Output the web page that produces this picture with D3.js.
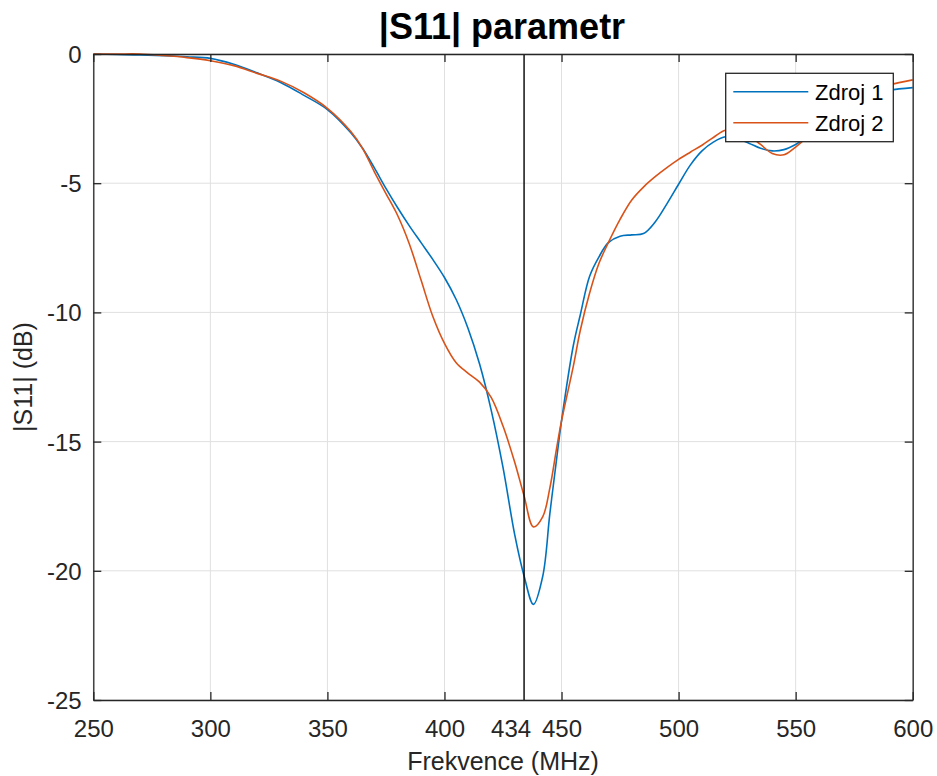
<html>
<head>
<meta charset="utf-8">
<style>
body { margin: 0; background: #fff; }
text { font-family: "Liberation Sans", Arial, sans-serif; fill: #262626; }
</style>
</head>
<body>
<svg id="chart"></svg>
<script src="https://cdn.jsdelivr.net/npm/d3@7"></script>
<script>
var width = 937, height = 776;

// frequencies (MHz) shared by both series
var freq = [250, 260, 270, 280, 290, 300, 310, 320, 330, 340, 350, 360, 365, 370, 375, 380, 385, 390, 395, 400,
  405, 410, 415, 420, 425, 430, 434, 438, 442, 445, 448, 450, 455, 458, 462, 466, 470, 475, 480, 485,
  490, 495, 500, 505, 510, 515, 520, 525, 530, 535, 540, 545, 550, 555, 560, 570, 580, 590, 600];

var zdroj1 = [0, -0.02, -0.04, -0.07, -0.11, -0.17, -0.4, -0.73, -1.1, -1.6, -2.15, -3.05, -3.65, -4.4, -5.2, -5.95, -6.65, -7.3, -7.95, -8.65,
  -9.5, -10.6, -12.0, -13.8, -16.0, -18.6, -20.2, -21.3, -20.2, -17.8, -15.6, -14.2, -11.3, -10.1, -8.6, -7.85, -7.3, -7.05, -7.0, -6.95,
  -6.5, -5.8, -5.04, -4.3, -3.75, -3.4, -3.2, -3.28, -3.45, -3.65, -3.75, -3.7, -3.5, -3.2, -2.8, -2.1, -1.6, -1.4, -1.3];

var zdroj2 = [0, 0, 0, -0.06, -0.14, -0.26, -0.45, -0.75, -1.05, -1.5, -2.1, -3.0, -3.65, -4.55, -5.4, -6.25, -7.35, -8.75, -10.15, -11.2,
  -11.95, -12.35, -12.7, -13.3, -14.4, -15.8, -17.1, -18.3, -17.9, -16.8, -15.2, -14.2, -12.1, -10.7, -9.25, -8.1, -7.3, -6.4, -5.65, -5.15,
  -4.75, -4.4, -4.08, -3.8, -3.53, -3.22, -2.95, -2.97, -3.15, -3.5, -3.85, -3.9, -3.6, -3.2, -2.7, -2.0, -1.5, -1.2, -1.0];

var seriesNames = ["Zdroj 1", "Zdroj 2"];
var seriesColors = ["#0072BD", "#D95319"];
var xTicks = [250, 300, 350, 400, 450, 500, 550, 600];
var yTicks = [0, -5, -10, -15, -20, -25];
var marker = 434;

var pLeft = 93.3, pRight = 912.7, pTop = 54, pBottom = 700;

var x = d3.scaleLinear().domain([250, 600]).range([pLeft, pRight]);
var y = d3.scaleLinear().domain([-25, 0]).range([pBottom, pTop]);

var svg = d3.select("#chart").attr("width", width).attr("height", height);

// grid
svg.append("g").selectAll("line").data(xTicks).enter().append("line")
  .attr("x1", function(d) { return x(d); }).attr("x2", function(d) { return x(d); })
  .attr("y1", pTop).attr("y2", pBottom)
  .attr("stroke", "#e0e0e0").attr("stroke-width", 1);
svg.append("g").selectAll("line").data(yTicks).enter().append("line")
  .attr("y1", function(d) { return y(d); }).attr("y2", function(d) { return y(d); })
  .attr("x1", pLeft).attr("x2", pRight)
  .attr("stroke", "#e0e0e0").attr("stroke-width", 1);

// curves
var line = d3.line()
  .x(function(d) { return x(d[0]); })
  .y(function(d) { return y(d[1]); })
  .curve(d3.curveCatmullRom.alpha(0.5));

[zdroj1, zdroj2].forEach(function(s, i) {
  svg.append("path")
    .datum(freq.map(function(f, j) { return [f, s[j]]; }))
    .attr("fill", "none")
    .attr("stroke", seriesColors[i])
    .attr("stroke-width", 1.6)
    .attr("d", line);
});

// marker line at 434 MHz
svg.append("line")
  .attr("x1", x(marker)).attr("x2", x(marker))
  .attr("y1", pTop).attr("y2", pBottom)
  .attr("stroke", "#000").attr("stroke-width", 1.4);

// axes (ticks inside, box on)
var tl = 8;
var plain = function(d) { return String(d); };   // hyphen minus like MATLAB
var axisBottom = d3.axisBottom(x).tickValues(xTicks).tickSizeInner(-tl).tickSizeOuter(0).tickFormat(plain);
var axisTop = d3.axisTop(x).tickValues(xTicks).tickSizeInner(-tl).tickSizeOuter(0).tickFormat("");
var axisLeft = d3.axisLeft(y).tickValues(yTicks).tickSizeInner(-tl).tickSizeOuter(0).tickFormat(plain);
var axisRight = d3.axisRight(y).tickValues(yTicks).tickSizeInner(-tl).tickSizeOuter(0).tickFormat("");

function styleAxis(g) {
  g.select(".domain").attr("stroke", "#262626").attr("stroke-width", 1.3);
  g.selectAll(".tick line").attr("stroke", "#262626").attr("stroke-width", 1.3);
  g.selectAll(".tick text").attr("fill", "#262626").style("font-size", "24px")
    .style("font-family", "'Liberation Sans', Arial, sans-serif");
}

var gb = svg.append("g").attr("transform", "translate(0," + pBottom + ")").call(axisBottom).call(styleAxis);
gb.selectAll(".tick text").attr("dy", null).attr("y", 36.7);
svg.append("g").attr("transform", "translate(0," + pTop + ")").call(axisTop).call(styleAxis);
var gl = svg.append("g").attr("transform", "translate(" + pLeft + ",0)").call(axisLeft).call(styleAxis);
gl.selectAll(".tick text").attr("x", -11.6).attr("dy", "0.35em");
svg.append("g").attr("transform", "translate(" + pRight + ",0)").call(axisRight).call(styleAxis);

// extra tick label for the marker
svg.append("text")
  .attr("x", x(marker) - 13).attr("y", pBottom + 36.7)
  .attr("text-anchor", "middle")
  .style("font-size", "24px")
  .text(marker);

// title and labels
svg.append("text")
  .attr("x", 502).attr("y", 39.3)
  .attr("text-anchor", "middle")
  .style("font-size", "36px").style("font-weight", "bold")
  .style("fill", "#000")
  .text("|S11| parametr");

svg.append("text")
  .attr("x", 503).attr("y", 770)
  .attr("text-anchor", "middle")
  .style("font-size", "25px")
  .text("Frekvence (MHz)");

svg.append("text")
  .attr("transform", "translate(32," + ((pTop + pBottom) / 2) + ") rotate(-90)")
  .attr("text-anchor", "middle")
  .style("font-size", "25px")
  .text("|S11| (dB)");

// legend
var lg = svg.append("g");
lg.append("rect")
  .attr("x", 725.7).attr("y", 73.3).attr("width", 167.6).attr("height", 68.4)
  .attr("fill", "#fff").attr("stroke", "#262626").attr("stroke-width", 1.3);
seriesNames.forEach(function(name, i) {
  var yy = 91.7 + i * 31;
  lg.append("line")
    .attr("x1", 733.3).attr("x2", 808.3).attr("y1", yy).attr("y2", yy)
    .attr("stroke", seriesColors[i]).attr("stroke-width", 1.6);
  lg.append("text")
    .attr("x", 815).attr("y", yy + 8.5)
    .style("font-size", "22px").style("fill", "#000")
    .text(name);
});
</script>
</body>
</html>
